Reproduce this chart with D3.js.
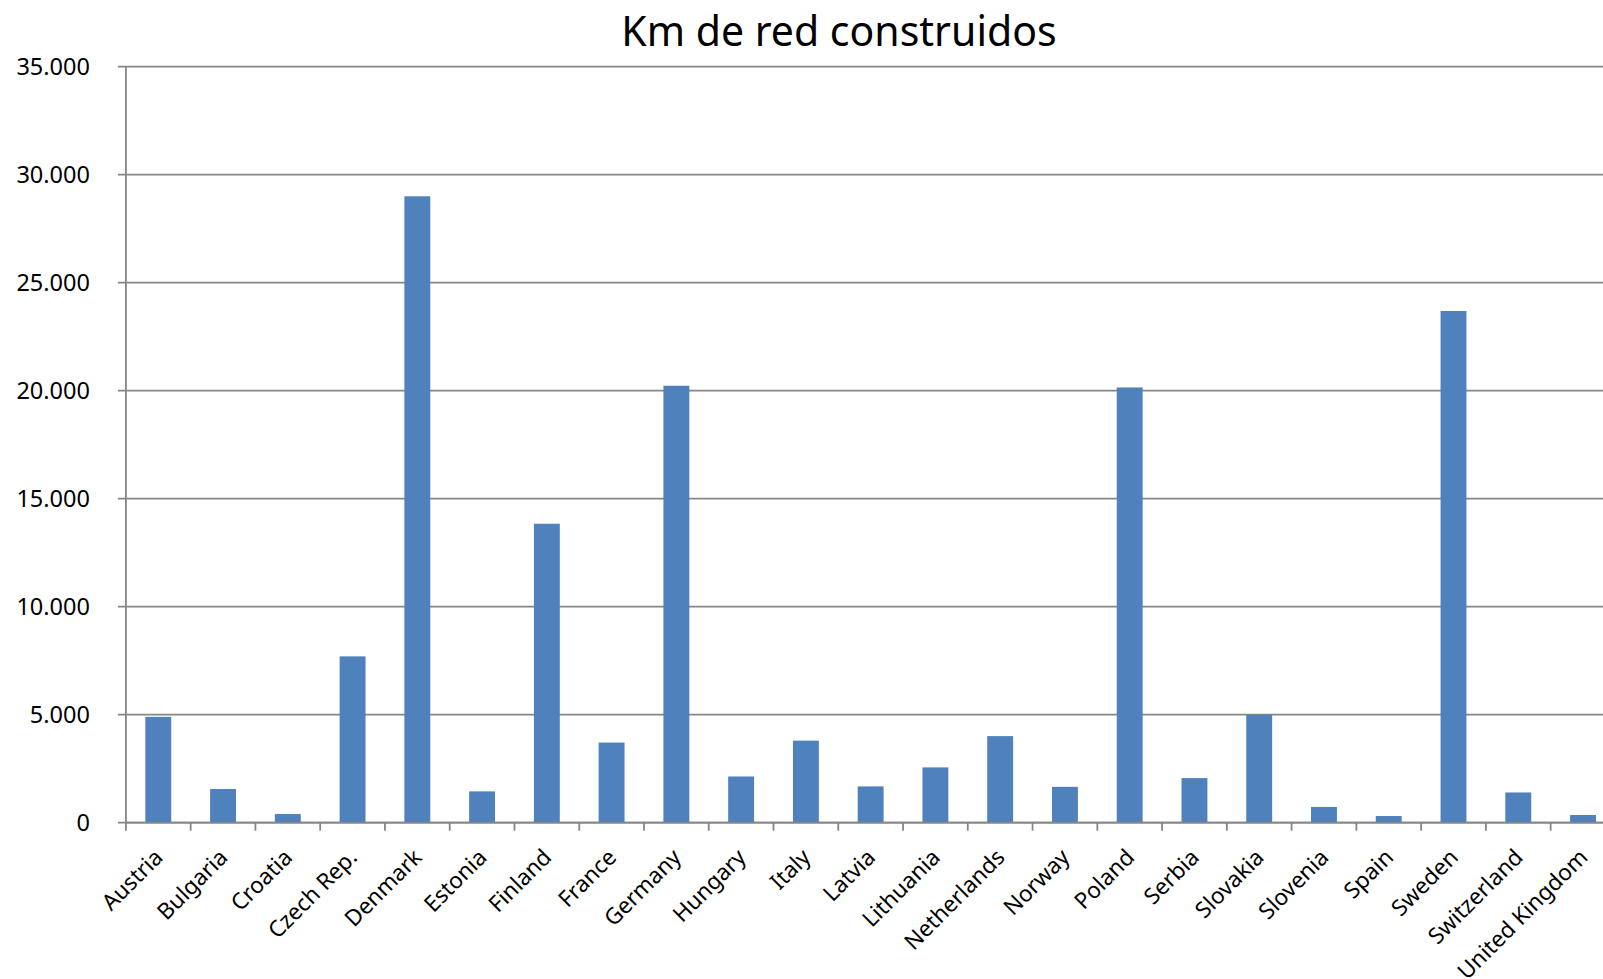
<!DOCTYPE html>
<html>
<head>
<meta charset="utf-8">
<script src="https://cdn.jsdelivr.net/npm/d3@7"></script>
<style>
  html, body { margin: 0; padding: 0; background: #fff; overflow: hidden; }
</style>
</head>
<body>
<div id="chart"></div>
<script>
// Data
const categories = ['Austria', 'Bulgaria', 'Croatia', 'Czech Rep.', 'Denmark', 'Estonia', 'Finland',
    'France', 'Germany', 'Hungary', 'Italy', 'Latvia', 'Lithuania', 'Netherlands', 'Norway',
    'Poland', 'Serbia', 'Slovakia', 'Slovenia', 'Spain', 'Sweden', 'Switzerland', 'United Kingdom'];
const kmValues = [4900, 1560, 400, 7700, 29000, 1450, 13840,
    3710, 20230, 2140, 3800, 1680, 2560, 4010, 1660,
    20150, 2065, 4990, 730, 310, 23690, 1400, 356];
const yTicks = [0, 5000, 10000, 15000, 20000, 25000, 30000, 35000];
const title = 'Km de red construidos';

const width = 1603;
const height = 979;
const margin = { top: 66.7, left: 125.9, bottom: 156.3 }; // plot runs past the right edge
const plotRight = 1615.4;
const plotBottom = height - margin.bottom;

const locale = d3.formatLocale({ decimal: ',', thousands: '.', grouping: [3], currency: ['', '€'] });
const fmt = locale.format(',d');

const svg = d3.select('#chart')
    .append('svg')
    .attr('width', width)
    .attr('height', height);

const x = d3.scaleBand()
    .domain(categories)
    .range([margin.left, plotRight])
    .padding(0);

const y = d3.scaleLinear()
    .domain([0, 35000])
    .range([plotBottom, margin.top]);

const gridColor = '#868686';
const font = '"Noto Sans", "Open Sans", sans-serif';

// Horizontal grid lines with small left ticks
svg.append('g')
    .selectAll('line')
    .data(yTicks)
    .enter().append('line')
    .attr('x1', margin.left - 8)
    .attr('x2', width)
    .attr('y1', d => y(d))
    .attr('y2', d => y(d))
    .attr('stroke', gridColor)
    .attr('stroke-width', 1.8);

// Y tick labels
svg.append('g')
    .selectAll('text')
    .data(yTicks)
    .enter().append('text')
    .attr('x', margin.left - 36)
    .attr('y', d => y(d))
    .attr('dy', '0.36em')
    .attr('text-anchor', 'end')
    .attr('font-family', font)
    .attr('font-size', '23.5px')
    .attr('fill', '#000')
    .text(d => fmt(d));

// Bars
const barW = x.bandwidth() * 0.4;
svg.append('g')
    .selectAll('rect')
    .data(categories)
    .enter().append('rect')
    .attr('x', (d) => x(d) + (x.bandwidth() - barW) / 2)
    .attr('y', (d, i) => y(kmValues[i]))
    .attr('width', barW)
    .attr('height', (d, i) => plotBottom - y(kmValues[i]))
    .attr('fill', '#4f81bd');

// Y axis line
svg.append('line')
    .attr('x1', margin.left).attr('x2', margin.left)
    .attr('y1', margin.top).attr('y2', plotBottom + 8)
    .attr('stroke', gridColor)
    .attr('stroke-width', 1.8);

// X axis line and ticks between categories
svg.append('line')
    .attr('x1', margin.left).attr('x2', width)
    .attr('y1', plotBottom).attr('y2', plotBottom)
    .attr('stroke', gridColor)
    .attr('stroke-width', 1.8);

svg.append('g')
    .selectAll('line')
    .data(categories.slice(1))
    .enter().append('line')
    .attr('x1', d => x(d)).attr('x2', d => x(d))
    .attr('y1', plotBottom).attr('y2', plotBottom + 8)
    .attr('stroke', gridColor)
    .attr('stroke-width', 1.8);

// Rotated category labels
svg.append('g')
    .selectAll('text')
    .data(categories)
    .enter().append('text')
    .attr('transform', d => `translate(${x(d) + x.bandwidth() / 2 + 6},${plotBottom + 36}) rotate(-45)`)
    .attr('text-anchor', 'end')
    .attr('font-family', font)
    .attr('font-size', '22.5px')
    .attr('fill', '#000')
    .text(d => d);

// Title
svg.append('text')
    .attr('x', 839)
    .attr('y', 46)
    .attr('text-anchor', 'middle')
    .attr('font-family', font)
    .attr('font-size', '41px')
    .attr('fill', '#000')
    .text(title);
</script>
</body>
</html>
